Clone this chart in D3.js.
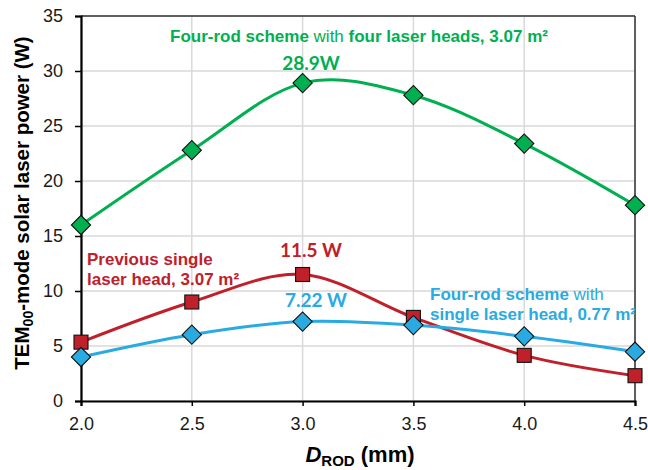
<!DOCTYPE html>
<html>
<head>
<meta charset="utf-8">
<script src="https://cdn.jsdelivr.net/npm/d3@7"></script>
<style>
  html, body { margin: 0; padding: 0; background: #fff; }
  svg { display: block; }
  text { font-family: "Liberation Sans", Arial, sans-serif; }
</style>
</head>
<body>
<svg id="chart" width="648" height="470"></svg>
<script>
// Rod diameter (mm)
const rodDiameters = [2.0, 2.5, 3.0, 3.5, 4.0, 4.5];
// TEM00-mode laser power (W) for each configuration
const fourRodFourHeads = [16.0, 22.8, 28.9, 27.8, 23.4, 17.8];
const previousSingleHead = [5.35, 9.0, 11.5, 7.6, 4.15, 2.3];
const fourRodSingleHead = [4.0, 6.03, 7.22, 6.9, 5.88, 4.48];

const xTicks = [2.0, 2.5, 3.0, 3.5, 4.0, 4.5];
const yTicks = [0, 5, 10, 15, 20, 25, 30, 35];

const GREEN = "#00b050";
const RED = "#c0202a";
const BLUE = "#29abe2";

const svg = d3.select("#chart");
const W = 648, H = 470;
const margin = { top: 16, right: 13, bottom: 69, left: 81 };
const iw = W - margin.left - margin.right;
const ih = H - margin.top - margin.bottom;

const x = d3.scaleLinear().domain([2.0, 4.5]).range([margin.left, margin.left + iw]);
const y = d3.scaleLinear().domain([0, 35]).range([margin.top + ih, margin.top]);

// gridlines
const grid = svg.append("g");
grid.selectAll("line.gx").data(xTicks).join("line")
  .attr("x1", d => x(d)).attr("x2", d => x(d))
  .attr("y1", y(35)).attr("y2", y(0))
  .attr("stroke", "#d9d9d9").attr("stroke-width", 1.5);
grid.selectAll("line.gy").data(yTicks).join("line")
  .attr("x1", x(2.0)).attr("x2", x(4.5))
  .attr("y1", d => y(d)).attr("y2", d => y(d))
  .attr("stroke", "#d9d9d9").attr("stroke-width", 1.5);

// top and right frame
svg.append("line").attr("x1", x(2.0)).attr("x2", x(4.5)).attr("y1", y(35)).attr("y2", y(35))
  .attr("stroke", "#333").attr("stroke-width", 1.5);
svg.append("line").attr("x1", x(4.5)).attr("x2", x(4.5)).attr("y1", y(35)).attr("y2", y(0))
  .attr("stroke", "#333").attr("stroke-width", 1.5);

// axes
const xAxis = svg.append("g").attr("transform", `translate(0,${y(0)})`)
  .call(d3.axisBottom(x).tickValues(xTicks).tickFormat(d3.format(".1f")).tickSize(5).tickPadding(11));
const yAxis = svg.append("g").attr("transform", `translate(${x(2.0)},0)`)
  .call(d3.axisLeft(y).tickValues(yTicks).tickSize(6).tickPadding(12));
[xAxis, yAxis].forEach(g => {
  g.select(".domain").attr("stroke", "#000").attr("stroke-width", 2.2);
  g.selectAll(".tick line").attr("stroke", "#000").attr("stroke-width", 1.5);
  g.selectAll(".tick text").attr("fill", "#1a1a1a")
    .style("font-family", "'Liberation Sans', Arial, sans-serif").style("font-size", "18px");
});

// smoothed series lines
const line = d3.line()
  .x((d, i) => x(rodDiameters[i]))
  .y(d => y(d))
  .curve(d3.curveCatmullRom.alpha(0));

function drawLine(vals, color) {
  svg.append("path").datum(vals).attr("d", line)
    .attr("fill", "none").attr("stroke", color).attr("stroke-width", 3);
}
drawLine(fourRodFourHeads, GREEN);
drawLine(previousSingleHead, RED);
drawLine(fourRodSingleHead, BLUE);

// markers
const diamond = d3.symbol().type(d3.symbolSquare).size(185);
function drawDiamonds(vals, color) {
  svg.append("g").selectAll("path").data(vals).join("path")
    .attr("d", diamond)
    .attr("transform", (d, i) => `translate(${x(rodDiameters[i])},${y(d)}) rotate(45)`)
    .attr("fill", color).attr("stroke", "#111").attr("stroke-width", 1.1);
}
function drawSquares(vals, color) {
  const s = 14;
  svg.append("g").selectAll("rect").data(vals).join("rect")
    .attr("x", (d, i) => x(rodDiameters[i]) - s / 2)
    .attr("y", d => y(d) - s / 2)
    .attr("width", s).attr("height", s)
    .attr("fill", color).attr("stroke", "#111").attr("stroke-width", 1.1);
}
drawSquares(previousSingleHead, RED);
drawDiamonds(fourRodSingleHead, BLUE);
drawDiamonds(fourRodFourHeads, GREEN);

// annotations
function richText(xp, yp, parts, color, size) {
  const t = svg.append("text").attr("x", xp).attr("y", yp)
    .attr("fill", color).style("font-size", size + "px");
  parts.forEach(p => {
    t.append("tspan").text(p[0]).attr("font-weight", p[1] ? "bold" : "normal");
  });
  return t;
}
richText(170, 42, [["Four-rod scheme", true], [" with ", false], ["four laser heads, 3.07 m\u00b2", true]], GREEN, 17);
richText(87, 265, [["Previous single", true]], RED, 17);
richText(87, 285, [["laser head, 3.07 m\u00b2", true]], RED, 17);
richText(430, 300, [["Four-rod scheme", true], [" with", false]], BLUE, 17);
richText(430, 320, [["single laser head, 0.77 m\u00b2", true]], BLUE, 17);

// peak value labels
function valueLabel(cx, cy, value, suffix, color) {
  svg.append("text").attr("x", cx).attr("y", cy)
    .attr("text-anchor", "middle").attr("fill", color)
    .style("font-family", "Lato, 'Open Sans', sans-serif")
    .style("font-weight", "bold").style("font-size", "19px")
    .text(value + suffix);
}
valueLabel(311, 70, fourRodFourHeads[2], "W", GREEN);
valueLabel(311, 257, previousSingleHead[2], " W", RED);
valueLabel(316, 307, fourRodSingleHead[2], " W", BLUE);

// axis titles
const xt = svg.append("text").attr("x", 360).attr("y", 462)
  .attr("text-anchor", "middle").attr("fill", "#000")
  .style("font-size", "22px").style("font-weight", "bold");
xt.append("tspan").text("D").style("font-style", "italic");
xt.append("tspan").text("ROD").style("font-size", "15px").attr("dy", 4);
xt.append("tspan").text(" (mm)").attr("dy", -4);

const yt = svg.append("text")
  .attr("transform", `translate(29,203) rotate(-90)`)
  .attr("text-anchor", "middle").attr("fill", "#000")
  .style("font-size", "20.5px").style("font-weight", "bold");
yt.append("tspan").text("TEM");
yt.append("tspan").text("00").style("font-size", "14px").attr("dy", 4);
yt.append("tspan").text("-mode solar laser power (W)").attr("dy", -4);
</script>
</body>
</html>
